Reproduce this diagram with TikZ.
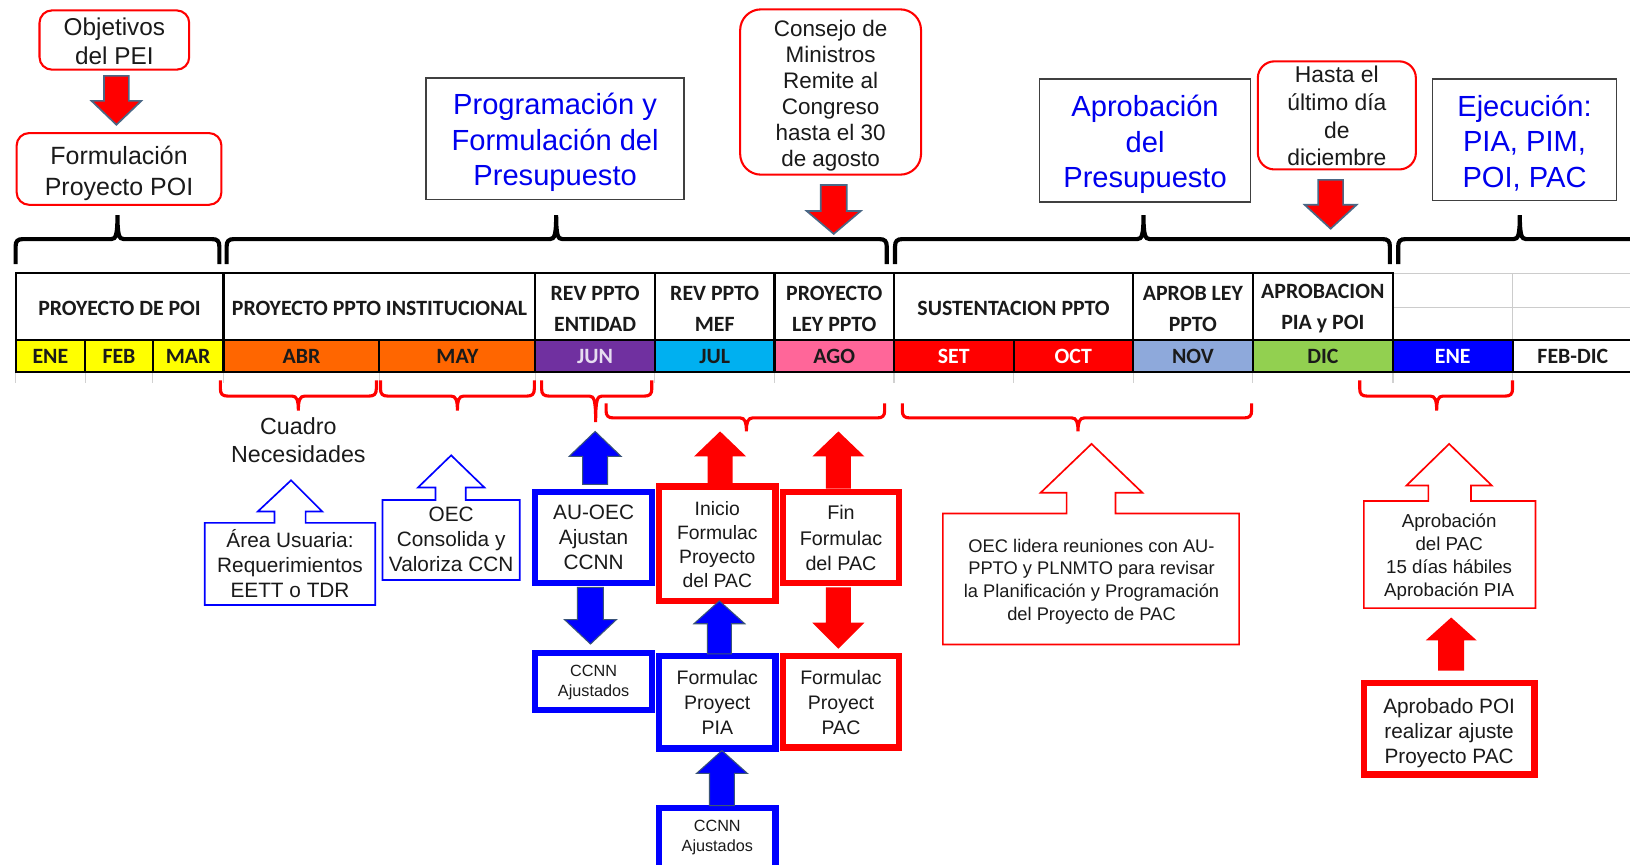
\documentclass[tikz,border=0pt]{standalone}
\usepackage{fontspec}
\setmainfont{Liberation Sans}
\newfontfamily\calib{Carlito}
\definecolor{txt}{HTML}{1A1A1A}
\definecolor{hblue}{HTML}{0000EE}
\definecolor{boxgray}{HTML}{404040}
\definecolor{arrowedge}{HTML}{4A6886}
\definecolor{arrowedgeb}{HTML}{3A5478}
\definecolor{myyellow}{HTML}{FFFF00}
\definecolor{myorange}{HTML}{FF6600}
\definecolor{mypurple}{HTML}{7030A0}
\definecolor{mycyan}{HTML}{00B0F0}
\definecolor{mypink}{HTML}{FF6699}
\definecolor{myred}{HTML}{FF0000}
\definecolor{mynov}{HTML}{8EA9DB}
\definecolor{mygreen}{HTML}{92D050}
\definecolor{myblue}{HTML}{0000FF}
\definecolor{lav}{HTML}{E6DDF0}
\newcommand\bx[8]{\node[#6,minimum width={(#4-#2)*0.5pt},minimum height={(#5-#3)*0.5pt}] (#1) at ({(#2+#4)/2},{(#3+#5)/2}) {};
\node[#6,draw=none,fill=none,minimum width=0pt,minimum height=0pt,yshift=#7] (#1t) at (#1.center) {#8};}
\newcommand\barrow[7]{\filldraw[#7] (#1,#2) -- ({#1+#5},#3) -- ({#1+#6},#3) -- ({#1+#6},#4) -- ({#1-#6},#4) -- ({#1-#6},#3) -- ({#1-#5},#3) -- cycle;}
\newcommand\brc[8]{\draw[#8] (#1,#4) -- (#1,{#5+(#7)*7}) .. controls (#1,{#5+(#7)*2}) and ({#1+2},#5) .. ({#1+7},#5) -- ({#3-6},#5) .. controls ({#3-1.5},#5) and (#3,{#5-(#7)*4}) .. (#3,#6) .. controls (#3,{#5-(#7)*4}) and ({#3+1.5},#5) .. ({#3+6},#5) -- ({#2-7},#5) .. controls ({#2-2},#5) and (#2,{#5+(#7)*2}) .. (#2,{#5+(#7)*7}) -- (#2,#4);}
\begin{document}
\begin{tikzpicture}[x=0.5pt,y=-0.5pt,
 every node/.style={inner sep=0pt,outer sep=0pt,text=txt},
 rbox/.style={draw=myred,line width=1pt,rounded corners=6pt,align=center,fill=white},
 tbox/.style={draw=boxgray,line width=0.8pt,align=center,text=hblue,font=\fontsize{14}{17}\selectfont},
 thb/.style={draw=myblue,line width=3pt,align=center,fill=white},
 thr/.style={draw=myred,line width=3pt,align=center,fill=white},
 cell/.style={draw=black,line width=1pt,align=center,font=\calib\bfseries\fontsize{10.5}{15}\selectfont},
 farrowT/.style={fill=myred,draw=arrowedge,line width=0.8pt},
 farrowB/.style={fill=myblue,draw=arrowedgeb,line width=0.5pt},
 farrowR/.style={fill=myred,draw=none},
 bbrace/.style={draw=black,line width=2pt},
 rbrace/.style={draw=myred,line width=1.5pt},
 hollowB/.style={draw=myblue,line width=0.8pt,fill=white},
 hollowR/.style={draw=myred,line width=0.8pt,fill=white},
 plain/.style={align=center}
]
\clip (0,0) rectangle (1568,832);
\fill[white] (0,0) rectangle (1568,832);

% ---------- top boxes ----------
\bx{obj}{38}{10}{182}{67}{rbox,font=\fontsize{11.7}{14}\selectfont}{-0.5pt}{Objetivos\\del PEI}
\bx{form}{16}{128}{213}{197}{rbox,font=\fontsize{12}{15}\selectfont}{-2pt}{Formulación\\Proyecto POI}
\bx{prog}{410}{75}{658}{192}{tbox}{-1.7pt}{Programación y\\Formulación del\\Presupuesto}
\bx{cons}{712}{9}{886}{168}{rbox,rounded corners=10pt,font=\fontsize{10.8}{12.5}\selectfont}{-1.7pt}{Consejo de\\Ministros\\Remite al\\Congreso\\hasta el 30\\de agosto}
\bx{apr}{1000}{76}{1203}{194}{tbox}{-2pt}{Aprobación\\del\\Presupuesto}
\bx{hasta}{1210}{59}{1362}{163}{rbox,rounded corners=8pt,font=\fontsize{11}{13.3}\selectfont}{-0.3pt}{Hasta el\\último día\\de\\diciembre}
\bx{ejec}{1378}{76}{1555}{193}{tbox}{-1.5pt}{Ejecución:\\PIA, PIM,\\POI, PAC}

\barrow{112}{120}{97}{73}{24}{12}{farrowT}
\barrow{802}{225}{203}{178}{26}{12.5}{farrowT}
\barrow{1280}{220}{197}{173}{25}{12}{farrowT}

% ---------- black braces ----------
\brc{15}{211}{113}{254}{230}{207}{1}{bbrace}
\brc{218}{853}{535}{254}{230}{207}{1}{bbrace}
\brc{861}{1337}{1100}{254}{230}{207}{1}{bbrace}
\brc{1345}{1620}{1462}{254}{230}{207}{1}{bbrace}

% ---------- table ----------
\draw[black!20,line width=0.5pt] (1340,263) -- (1568,263) (1340,296) -- (1568,296) (1455,263) -- (1455,327);
\foreach \xx in {15,82,147,215,365,515,630,745,860,975,1090,1205,1340,1455}
  \draw[black!18,line width=0.5pt] (\xx,358) -- (\xx,368);
\bx{h1}{15}{263}{215}{327}{cell}{-1pt}{PROYECTO DE POI}
\bx{h2}{215}{263}{515}{327}{cell}{-1pt}{PROYECTO PPTO INSTITUCIONAL}
\bx{h3}{515}{263}{630}{327}{cell}{-1pt}{REV PPTO\\ENTIDAD}
\bx{h4}{630}{263}{745}{327}{cell}{-1pt}{REV PPTO\\MEF}
\bx{h5}{745}{263}{860}{327}{cell}{-1pt}{PROYECTO\\LEY PPTO}
\bx{h6}{860}{263}{1090}{327}{cell}{-1pt}{SUSTENTACION PPTO}
\bx{h7}{1090}{263}{1205}{327}{cell}{-1pt}{APROB LEY\\PPTO}
\bx{h8}{1205}{263}{1340}{327}{cell}{-1pt}{APROBACION\\PIA y POI}

\bx{m1}{15}{327}{82}{358}{cell,fill=myyellow}{-0.3pt}{ENE}
\bx{m2}{82}{327}{147}{358}{cell,fill=myyellow}{-0.3pt}{FEB}
\bx{m3}{147}{327}{215}{358}{cell,fill=myyellow}{-0.3pt}{MAR}
\bx{m4}{215}{327}{365}{358}{cell,fill=myorange}{-0.3pt}{ABR}
\bx{m5}{365}{327}{515}{358}{cell,fill=myorange}{-0.3pt}{MAY}
\bx{m6}{515}{327}{630}{358}{cell,fill=mypurple,text=lav}{-0.3pt}{JUN}
\bx{m7}{630}{327}{745}{358}{cell,fill=mycyan}{-0.3pt}{JUL}
\bx{m8}{745}{327}{860}{358}{cell,fill=mypink}{-0.3pt}{AGO}
\bx{m9}{860}{327}{975}{358}{cell,fill=myred,text=white}{-0.3pt}{SET}
\bx{m10}{975}{327}{1090}{358}{cell,fill=myred,text=white}{-0.3pt}{OCT}
\bx{m11}{1090}{327}{1205}{358}{cell,fill=mynov}{-0.3pt}{NOV}
\bx{m12}{1205}{327}{1340}{358}{cell,fill=mygreen}{-0.3pt}{DIC}
\bx{m13}{1340}{327}{1455}{358}{cell,fill=myblue,text=white}{-0.3pt}{ENE}
\bx{m14}{1455}{327}{1571}{358}{cell,fill=white}{-0.3pt}{FEB-DIC}

% ---------- red braces ----------
\brc{212}{362}{287}{366}{381}{395}{-1}{rbrace}
\brc{366}{514}{440}{366}{381}{395}{-1}{rbrace}
\brc{521}{627}{573}{366}{381}{406}{-1}{rbrace}
\brc{583}{851}{718}{388}{402}{415}{-1}{rbrace}
\brc{868}{1204}{1037}{388}{402}{415}{-1}{rbrace}
\brc{1308}{1455}{1382}{366}{381}{395}{-1}{rbrace}

% ---------- lower left ----------
\node[plain,font=\fontsize{11.2}{13.5}\selectfont] (cuadro) at (287,423) {Cuadro\\Necesidades};

\draw[hollowB] (197,503) -- (264,503) -- (264,492) -- (248,492) -- (280,462) -- (310,492) -- (294,492) -- (294,503) -- (361,503) -- (361,582) -- (197,582) -- cycle;
\node[plain,font=\fontsize{10}{12}\selectfont] (area) at (279,542) {Área Usuaria:\\Requerimientos\\EETT o TDR};

\draw[hollowB] (368,481) -- (419,481) -- (419,469) -- (402,469) -- (434,438) -- (466,469) -- (448,469) -- (448,481) -- (500,481) -- (500,558) -- (368,558) -- cycle;
\node[plain,font=\fontsize{10}{12}\selectfont] (oec) at (434,519) {OEC\\Consolida y\\Valoriza CCN};

% ---------- thick boxes ----------
\bx{auoec}{515}{473}{627}{561}{thb,font=\fontsize{10}{12.2}\selectfont}{0pt}{AU-OEC\\Ajustan\\CCNN}
\bx{ccnna}{515}{628}{627}{683}{thb,font=\fontsize{7.8}{9.5}\selectfont}{-0.6pt}{CCNN\\Ajustados}
\bx{inicio}{634}{468}{746}{578}{thr,font=\fontsize{9.3}{11.5}\selectfont}{-0.4pt}{Inicio\\Formulac\\Proyecto\\del PAC}
\bx{fin}{753}{473}{865}{561}{thr,font=\fontsize{9.5}{12.2}\selectfont}{-0.3pt}{Fin\\Formulac\\del PAC}
\bx{pia}{634}{631}{746}{720}{thb,font=\fontsize{9.4}{12}\selectfont}{0pt}{Formulac\\Proyect\\PIA}
\bx{pac}{753}{631}{865}{719}{thr,font=\fontsize{9.4}{12}\selectfont}{-0.4pt}{Formulac\\Proyect\\PAC}
\bx{ccnnb}{634}{777}{746}{835}{thb,font=\fontsize{7.8}{9.5}\selectfont}{0pt}{CCNN\\Ajustados}

\barrow{572.5}{415}{439}{466}{25}{12}{farrowB}
\barrow{692.7}{415}{439}{466}{25}{12}{farrowR}
\barrow{806.5}{415}{439}{470}{25}{12}{farrowR}
\barrow{568}{619.5}{596}{565}{25}{12.5}{farrowB}
\barrow{692}{578}{600}{629}{24.5}{11.5}{farrowB}
\barrow{806.5}{624}{599}{565}{25}{12}{farrowR}
\barrow{694.5}{722}{744}{775}{24.5}{12}{farrowB}

% ---------- lower right ----------
\draw[hollowR] (907,494) -- (1026,494) -- (1026,474) -- (1001,474) -- (1050,427) -- (1099,474) -- (1073,474) -- (1073,494) -- (1192,494) -- (1192,620) -- (907,620) -- cycle;
\node[plain,font=\fontsize{8.8}{11}\selectfont] (oecl) at (1050,559.5) {OEC lidera reuniones con AU-\\PPTO y PLNMTO para revisar\\la Planificación y Programación\\del Proyecto de PAC};

\draw[hollowR] (1312,482) -- (1374,482) -- (1374,467) -- (1353,467) -- (1394,427) -- (1435,467) -- (1415,467) -- (1415,482) -- (1477,482) -- (1477,585) -- (1312,585) -- cycle;
\node[plain,font=\fontsize{9}{11}\selectfont] (apac) at (1394,536) {Aprobación\\del PAC\\15 días hábiles\\Aprobación PIA};

\bx{aprobado}{1312}{657}{1476}{745}{thr,font=\fontsize{10}{12}\selectfont}{-2pt}{Aprobado POI\\realizar ajuste\\Proyecto PAC}
\barrow{1396}{594}{616}{645}{24.5}{12.5}{farrowR}
\end{tikzpicture}
\end{document}
